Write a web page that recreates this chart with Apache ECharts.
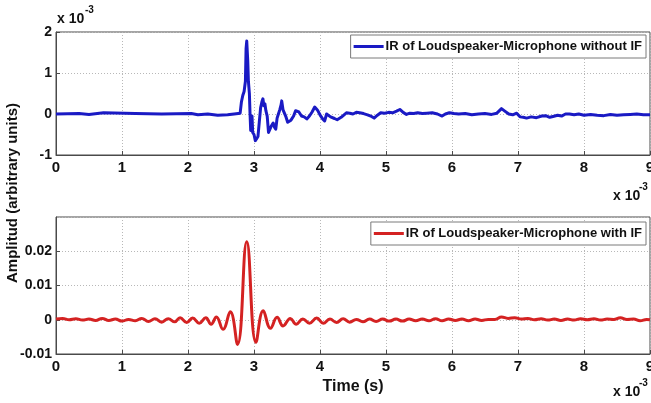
<!DOCTYPE html>
<html>
<head>
<meta charset="utf-8">
<script src="https://cdn.jsdelivr.net/npm/echarts@6.0.0/dist/echarts.min.js"></script>
<style>
  html, body { margin: 0; padding: 0; background: #fff; }
  #chart { width: 651px; height: 403px; }
</style>
</head>
<body>
<div id="chart"></div>
<script>
// Impulse responses of the loudspeaker-microphone path, time axis in ms (x 10^-3 s)

// Without IF: amplitude in units of 10^-3
const blueTime = [0, 0.35, 0.5, 0.72, 0.75, 1.2, 1.6, 2.05, 2.15, 2.3, 2.45, 2.6, 2.7, 2.79, 2.81, 2.83, 2.85, 2.87, 2.88, 2.89, 2.905, 2.915, 2.93, 2.94, 2.95, 2.96, 2.97, 2.98, 3.0, 3.02, 3.04, 3.06, 3.08, 3.1, 3.12, 3.135, 3.15, 3.165, 3.18, 3.2, 3.22, 3.24, 3.26, 3.29, 3.31, 3.33, 3.35, 3.37, 3.39, 3.41, 3.42, 3.44, 3.46, 3.48, 3.51, 3.53, 3.56, 3.6, 3.63, 3.65, 3.68, 3.72, 3.76, 3.8, 3.84, 3.88, 3.92, 3.96, 4.0, 4.04, 4.07, 4.1, 4.12, 4.16, 4.22, 4.26, 4.32, 4.4, 4.45, 4.5, 4.55, 4.6, 4.66, 4.72, 4.78, 4.82, 4.87, 4.92, 4.98, 5.04, 5.1, 5.16, 5.21, 5.26, 5.31, 5.36, 5.42, 5.48, 5.55, 5.62, 5.7, 5.78, 5.85, 5.9, 5.96, 6.03, 6.1, 6.2, 6.3, 6.4, 6.5, 6.6, 6.68, 6.75, 6.8, 6.86, 6.92, 6.98, 7.03, 7.08, 7.13, 7.2, 7.28, 7.36, 7.42, 7.48, 7.53, 7.6, 7.66, 7.72, 7.78, 7.85, 7.92, 8.0, 8.1, 8.2, 8.3, 8.4, 8.5, 8.6, 8.7, 8.8, 8.9, 9.0];
const blueAmp = [0, 0.01, -0.01, 0.03, 0, 0.01, 0, 0.01, -0.02, 0, -0.03, -0.02, 0, 0.02, 0.3, 0.45, 0.55, 0.8, 1.6, 1.78, 1.3, 0.8, 0.5, 0, -0.4, -0.3, -0.05, -0.45, -0.5, -0.65, -0.6, -0.55, -0.2, 0.15, 0.3, 0.37, 0.2, 0.25, 0.08, -0.05, -0.45, -0.48, -0.3, -0.22, -0.32, -0.37, -0.1, 0, 0.1, 0.22, 0.32, 0.1, 0.12, -0.05, -0.2, -0.24, -0.15, -0.05, 0.08, 0.12, 0.05, -0.05, -0.07, -0.12, -0.05, 0.05, 0.17, 0.1, -0.02, -0.12, -0.17, 0, -0.02, -0.07, -0.11, -0.14, -0.08, 0.03, 0.02, 0, 0.04, 0.03, 0.01, -0.02, -0.06, -0.1, -0.03, 0.03, 0.02, 0.04, 0.03, 0.07, 0.11, 0.04, -0.01, 0.02, 0.01, 0.03, 0.01, 0.02, 0.03, 0, -0.05, 0, 0.03, 0.01, 0, 0.01, -0.02, 0, 0.01, -0.01, 0.02, 0.13, 0.07, 0, -0.02, 0.02, -0.07, -0.08, -0.1, -0.07, -0.09, -0.05, -0.04, -0.08, -0.06, -0.03, -0.05, 0, 0, -0.02, 0, -0.03, -0.01, -0.03, -0.04, -0.01, -0.03, -0.02, -0.01, 0, -0.02, -0.02];

// With IF: amplitude in arbitrary units
const redTime = [0, 0.1, 0.2, 0.3, 0.4, 0.5, 0.6, 0.7, 0.8, 0.9, 1.0, 1.1, 1.2, 1.3, 1.4, 1.5, 1.6, 1.7, 1.8, 1.88, 1.98, 2.07, 2.17, 2.27, 2.35, 2.43, 2.53, 2.64, 2.75, 2.89, 3.03, 3.14, 3.25, 3.35, 3.44, 3.55, 3.64, 3.74, 3.84, 3.95, 4.05, 4.15, 4.25, 4.35, 4.45, 4.55, 4.65, 4.75, 4.85, 4.95, 5.05, 5.15, 5.25, 5.35, 5.45, 5.55, 5.65, 5.75, 5.85, 5.95, 6.05, 6.15, 6.25, 6.35, 6.45, 6.55, 6.65, 6.75, 6.85, 6.95, 7.05, 7.15, 7.25, 7.35, 7.45, 7.55, 7.65, 7.75, 7.85, 7.95, 8.05, 8.15, 8.25, 8.35, 8.45, 8.55, 8.65, 8.75, 8.85, 8.95, 9.0];
const redAmp = [0.0002, 0.0004, 0.0, 0.0003, -0.0001, 0.0002, -0.0002, 0.0004, -0.0002, 0.0002, -0.0004, 0.0001, -0.0003, 0.0004, -0.0005, 0.0003, -0.0007, 0.0003, -0.0006, 0.0006, -0.0008, 0.0005, -0.0010, 0.0006, -0.0013, 0.0008, -0.0028, 0.0023, -0.0072, 0.0228, -0.0066, 0.0026, -0.0025, 0.0007, -0.0018, 0.0004, -0.0013, 0.0002, -0.0010, 0.0005, -0.0010, 0.0002, -0.0008, 0.0003, -0.0007, 0.0001, -0.0006, 0.0002, -0.0005, 0.0002, -0.0004, 0.0002, -0.0004, 0.0002, -0.0003, 0.0002, -0.0003, 0.0003, -0.0003, 0.0002, -0.0002, 0.0002, -0.0003, 0.0002, -0.0002, 0.0001, 0.0001, 0.0008, 0.0004, 0.0006, 0.0002, 0.0004, 0.0, 0.0003, -0.0001, 0.0002, -0.0002, 0.0002, -0.0001, 0.0003, 0.0, 0.0003, -0.0001, 0.0002, 0.0001, 0.0006, 0.0001, 0.0002, -0.0003, 0.0001, 0.0];

const blueName = 'IR of Loudspeaker-Microphone without IF';
const redName = 'IR of Loudspeaker-Microphone with IF';
const yTitle = 'Amplitud (arbitrary units)';
const xTitle = 'Time (s)';
const scaleBase = 'x 10';
const scaleExp = '-3';

const FONT = '"Liberation Sans", Arial, sans-serif';
const BLUE = '#1a1ac4';
const RED = '#d42222';
const AXIS = '#4a4a4a';

const chart = echarts.init(document.getElementById('chart'), null, { renderer: 'canvas' });

const labelStyle = { fontFamily: FONT, fontWeight: 'bold', fontSize: 14, color: '#111' };

function xAxisFor(gridIndex) {
  return {
    type: 'value', gridIndex, min: 0, max: 9, interval: 1,
    axisLine: { onZero: false, lineStyle: { color: AXIS, width: 1 } },
    axisTick: { inside: true, length: 4, lineStyle: { color: AXIS } },
    splitLine: { show: true, lineStyle: { color: '#b8b8b8', type: [1, 2], width: 1 } },
    axisLabel: Object.assign({ margin: 5, showMaxLabel: true, fontSize: 15 }, { fontFamily: FONT, fontWeight: 'bold', color: '#111' })
  };
}

function yAxisFor(gridIndex, min, max, interval, fmt, showMax) {
  return {
    type: 'value', gridIndex, min, max, interval,
    axisLine: { show: true, onZero: false, lineStyle: { color: AXIS, width: 1 } },
    axisTick: { show: true, inside: true, length: 4, lineStyle: { color: AXIS } },
    splitLine: { show: true, lineStyle: { color: '#b8b8b8', type: [1, 2], width: 1 } },
    axisLabel: Object.assign({ margin: 4, formatter: fmt, showMaxLabel: showMax }, labelStyle)
  };
}

function legendFor(name, top) {
  return {
    data: [name], right: 5, top, orient: 'horizontal',
    icon: 'rect', itemWidth: 30, itemHeight: 3, itemGap: 4,
    backgroundColor: '#fff', borderColor: '#7a7a7a', borderWidth: 1,
    padding: [5, 4, 5, 3],
    textStyle: { fontFamily: FONT, fontWeight: 'bold', fontSize: 13, color: '#111', padding: [0, 0, 0, -3] }
  };
}

function txt(x, y, text, size, extra) {
  return {
    type: 'text', x, y, silent: true,
    style: Object.assign({ text, fontFamily: FONT, fontWeight: 'bold', fontSize: size, fill: '#111' }, extra || {})
  };
}

chart.setOption({
  animation: false,
  backgroundColor: '#fff',
  grid: [
    { left: 56, right: 1, top: 32, height: 123, show: true, borderColor: AXIS, borderWidth: 1, backgroundColor: 'transparent', outerBoundsMode: 'none', containLabel: false },
    { left: 56, right: 1, top: 217, height: 137, show: true, borderColor: AXIS, borderWidth: 1, backgroundColor: 'transparent', outerBoundsMode: 'none', containLabel: false }
  ],
  xAxis: [xAxisFor(0), xAxisFor(1)],
  yAxis: [
    yAxisFor(0, -1, 2, 1, v => String(Math.round(v)), true),
    yAxisFor(1, -0.01, 0.03, 0.01, v => String(Math.round(v * 100) / 100), false)
  ],
  legend: [legendFor(blueName, 35), legendFor(redName, 222)],
  series: [
    {
      name: blueName, type: 'line', xAxisIndex: 0, yAxisIndex: 0,
      data: blueTime.map((t, i) => [t, blueAmp[i]]),
      symbol: 'none', showSymbol: false,
      lineStyle: { color: BLUE, width: 3, join: 'round' }, itemStyle: { color: BLUE }
    },
    {
      name: redName, type: 'line', xAxisIndex: 1, yAxisIndex: 1,
      data: redTime.map((t, i) => [t, redAmp[i]]),
      symbol: 'none', showSymbol: false, smooth: 0.45,
      lineStyle: { color: RED, width: 3, join: 'round' }, itemStyle: { color: RED }
    }
  ],
  graphic: [
    // exponent of the top y axis
    txt(57, 12, scaleBase, 14),
    txt(85, 5, scaleExp, 10),
    // exponent of the top x axis
    txt(613, 189, scaleBase, 14),
    txt(639, 182, scaleExp, 10),
    // exponent of the bottom x axis
    txt(613, 385, scaleBase, 14),
    txt(639, 378, scaleExp, 10),
    // axis titles
    txt(353, 387, xTitle, 16, { align: 'center', verticalAlign: 'middle' }),
    Object.assign(txt(13, 193, yTitle, 15, { align: 'center', verticalAlign: 'middle' }), { rotation: Math.PI / 2 })
  ]
});
</script>
</body>
</html>
